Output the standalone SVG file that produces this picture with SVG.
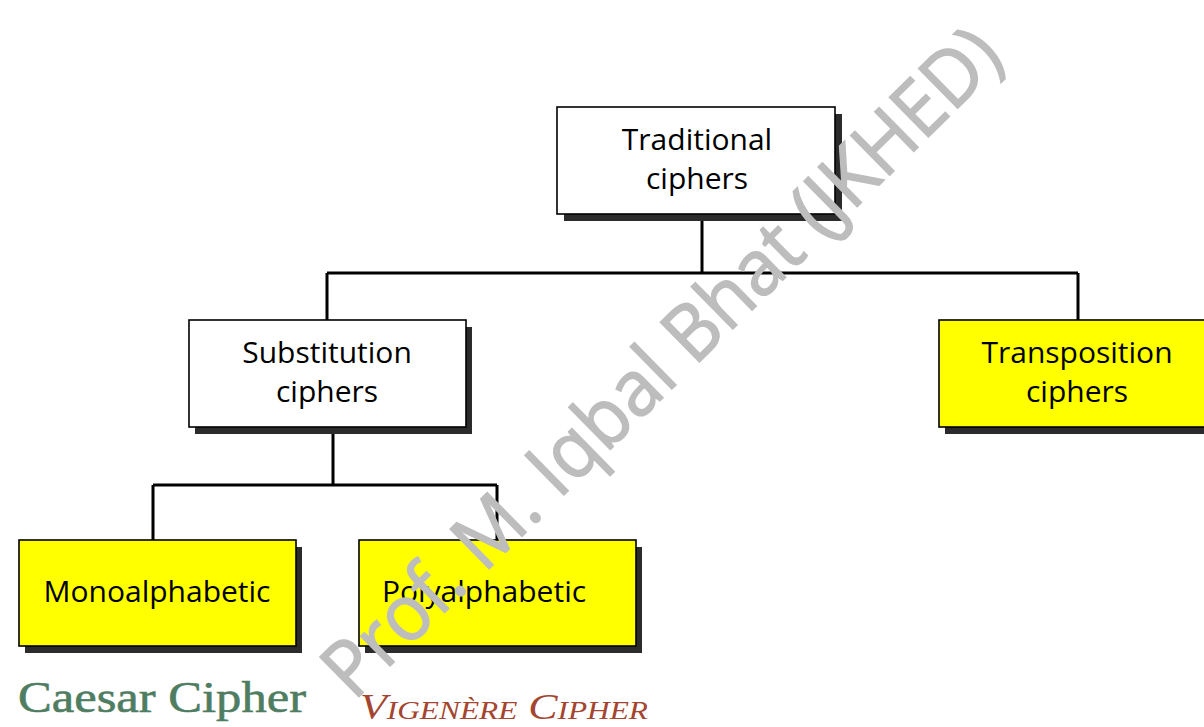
<svg xmlns="http://www.w3.org/2000/svg" width="1204" height="727" viewBox="0 0 1204 727">
  <style>
    .shadow { fill: #2b2b2b; }
    .box { stroke: #000; stroke-width: 1.6; }
    .white { fill: #fff; }
    .yellow { fill: #ffff00; }
    .label { font-family: "Open Sans", "Noto Sans", sans-serif; font-size: 30px; fill: #000; text-anchor: middle; }
    .wire { fill: none; stroke: #000; stroke-width: 3; }
  </style>
  <rect width="1204" height="727" fill="#fff"/>

  <!-- tree connectors -->
  <g id="connectors">
    <path class="wire" d="M702 216 V273 M327 273 H1078 M327 273 V320 M1078 273 V320"/>
    <path class="wire" d="M333 429 V485 M153 485 H497 M153 485 V540 M497 485 V540"/>
  </g>

  <g id="traditional">
    <rect class="shadow" x="564" y="114" width="278" height="107"/>
    <rect class="box white" x="557" y="107" width="278" height="107"/>
    <text class="label" x="697" y="150">Traditional</text>
    <text class="label" x="697" y="189">ciphers</text>
  </g>

  <g id="substitution">
    <rect class="shadow" x="195" y="327" width="277" height="107"/>
    <rect class="box white" x="189" y="320" width="277" height="107"/>
    <text class="label" x="327" y="363">Substitution</text>
    <text class="label" x="327" y="402">ciphers</text>
  </g>

  <g id="transposition">
    <rect class="shadow" x="945" y="327" width="270" height="107"/>
    <rect class="box yellow" x="939" y="320" width="270" height="107"/>
    <text class="label" x="1077" y="363">Transposition</text>
    <text class="label" x="1077" y="402">ciphers</text>
  </g>

  <g id="monoalphabetic">
    <rect class="shadow" x="25" y="547" width="277" height="106"/>
    <rect class="box yellow" x="19" y="540" width="277" height="106"/>
    <text class="label" x="157" y="602">Monoalphabetic</text>
  </g>

  <g id="polyalphabetic">
    <rect class="shadow" x="365" y="547" width="277" height="106"/>
    <rect class="box yellow" x="359" y="540" width="277" height="106"/>
    <text class="label" x="484" y="602">Polyalphabetic</text>
  </g>

  <!-- example cipher names -->
  <text x="18" y="712" textLength="288" lengthAdjust="spacingAndGlyphs" font-family="'Liberation Serif', serif" font-size="44" fill="#4f7d62" stroke="#4f7d62" stroke-width="0.6">Caesar Cipher</text>
  <text x="360" y="719" textLength="288" lengthAdjust="spacingAndGlyphs" font-family="'Liberation Serif', serif" font-size="35" font-style="italic" font-variant="small-caps" fill="#a4452f">Vigenère Cipher</text>

  <!-- watermark -->
  <text x="680" y="381" transform="rotate(-44.5 680 381)" font-family="'Open Sans', 'Noto Sans', sans-serif" font-size="78" fill="#bdbdbd" stroke="#bdbdbd" stroke-width="1.5" text-anchor="middle" textLength="915" lengthAdjust="spacingAndGlyphs">Prof. M. Iqbal Bhat (JKHED)</text>
</svg>
